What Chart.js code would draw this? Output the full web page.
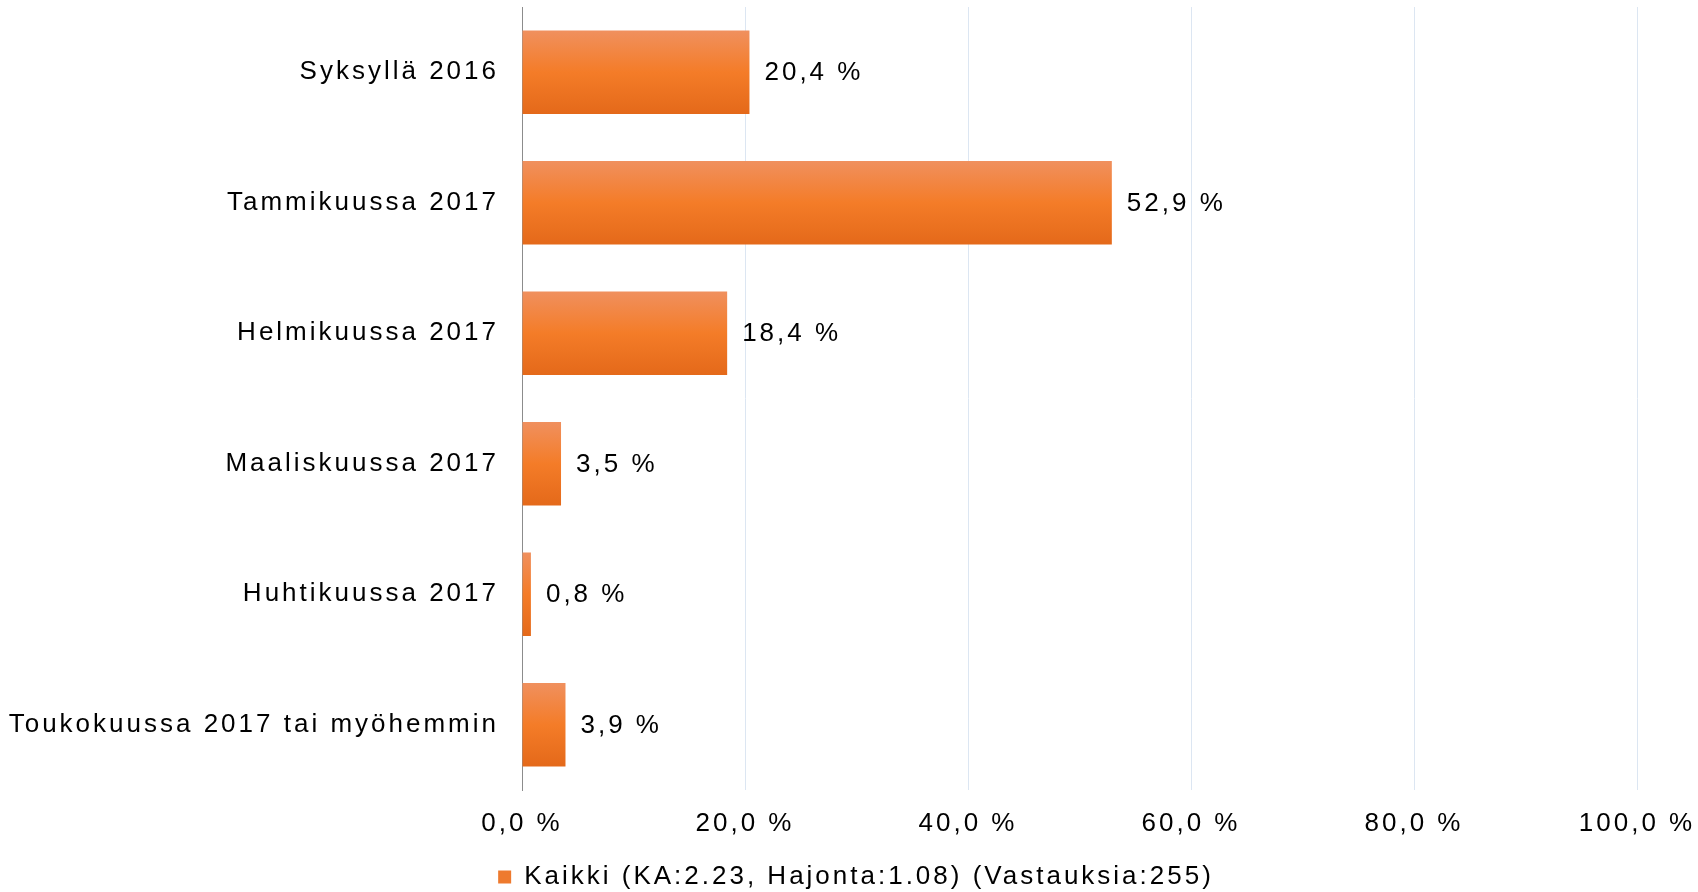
<!DOCTYPE html>
<html>
<head>
<meta charset="utf-8">
<script src="https://cdn.jsdelivr.net/npm/chart.js@4/dist/chart.umd.min.js"></script>
<style>
  html, body { margin: 0; padding: 0; background: #fff; }
  #wrap { width: 1698px; height: 892px; position: relative; }
</style>
</head>
<body>
<div id="wrap"><canvas id="chart"></canvas></div>
<script>
// --- Datos ---
const categorias = [
    'Syksyllä 2016',
    'Tammikuussa 2017',
    'Helmikuussa 2017',
    'Maaliskuussa 2017',
    'Huhtikuussa 2017',
    'Toukokuussa 2017 tai myöhemmin'
];
const valores = [20.4, 52.9, 18.4, 3.5, 0.8, 3.9];
const serieNombre = 'Kaikki (KA:2.23, Hajonta:1.08) (Vastauksia:255)';
const ejeMin = 0;
const ejeMax = 100;
const ejePaso = 20;

const BAR_PCT = 0.64;
const FONT = { family: 'Arial, "Liberation Sans", sans-serif', size: 26 };

function formatPct(v) {
    return v.toFixed(1).replace('.', ',') + ' %';
}

// letter spacing like the original
const spacingPlugin = {
    id: 'spacing',
    beforeUpdate(chart) { chart.ctx.letterSpacing = '3px'; },
    beforeLayout(chart) { chart.ctx.letterSpacing = '3px'; },
    afterLayout(chart) {
        // nudge legend a bit right (original is centred slightly off)
        chart.legend.left += 7;
        chart.legend.right += 7;
    },
    beforeDraw(chart) { chart.ctx.letterSpacing = '3px'; }
};

// value labels at bar end
const valueLabels = {
    id: 'valueLabels',
    afterDatasetsDraw(chart) {
        const ctx = chart.ctx;
        const meta = chart.getDatasetMeta(0);
        ctx.save();
        ctx.letterSpacing = '3px';
        ctx.font = FONT.size + 'px ' + FONT.family;
        ctx.fillStyle = '#000';
        ctx.textAlign = 'left';
        ctx.textBaseline = 'middle';
        meta.data.forEach((bar, i) => {
            ctx.fillText(formatPct(valores[i]), bar.x + 15, bar.y + 1);
        });
        ctx.restore();
    }
};

function barGradient(context) {
    const chart = context.chart;
    const scale = chart.scales.y;
    if (!scale || context.dataIndex === undefined) return '#F07A2A';
    const y = scale.getPixelForValue(context.dataIndex);
    const half = (scale.height / categorias.length) * BAR_PCT / 2;
    const g = chart.ctx.createLinearGradient(0, y - half, 0, y + half);
    g.addColorStop(0, '#F0905E');
    g.addColorStop(0.5, '#F47C28');
    g.addColorStop(1, '#E4691A');
    return g;
}

Chart.defaults.font.family = FONT.family;
Chart.defaults.font.size = FONT.size;
Chart.defaults.color = '#000';

new Chart(document.getElementById('chart'), {
    type: 'bar',
    data: {
        labels: categorias,
        datasets: [{
            label: serieNombre,
            data: valores,
            backgroundColor: barGradient,
            borderWidth: 0,
            barPercentage: BAR_PCT,
            categoryPercentage: 1
        }]
    },
    options: {
        indexAxis: 'y',
        responsive: true,
        maintainAspectRatio: false,
        animation: false,
        layout: { padding: { top: 7, right: 0, left: 0, bottom: -8 } },
        plugins: {
            tooltip: { enabled: false },
            legend: {
                position: 'bottom',
                labels: {
                    boxWidth: 13,
                    boxHeight: 13,
                    padding: 0,
                    color: '#000',
                    font: FONT,
                    generateLabels: () => [{
                        text: serieNombre,
                        fillStyle: '#EE7A2E',
                        strokeStyle: '#EE7A2E',
                        lineWidth: 0,
                        datasetIndex: 0
                    }]
                }
            }
        },
        scales: {
            x: {
                min: ejeMin,
                max: ejeMax,
                ticks: {
                    stepSize: ejePaso,
                    padding: 18,
                    font: FONT,
                    color: '#000',
                    callback: v => formatPct(v)
                },
                grid: {
                    drawTicks: false,
                    color: c => c.tick && c.tick.value === 0 ? 'rgba(0,0,0,0)' : '#DCE6F2',
                    lineWidth: 1
                },
                border: { display: false },
                afterFit: s => {
                    s.height = 74;
                    s.paddingLeft = 0;
                    s.paddingRight = 61;
                }
            },
            y: {
                ticks: {
                    padding: 23,
                    font: FONT,
                    color: '#000'
                },
                grid: { display: false, drawTicks: false },
                border: { display: true, color: '#8C8C8C', width: 1 },
                afterFit: s => {
                    s.width = 522;
                    s.paddingTop = 0;
                    s.paddingBottom = 0;
                }
            }
        }
    },
    plugins: [spacingPlugin, valueLabels]
});
</script>
</body>
</html>
